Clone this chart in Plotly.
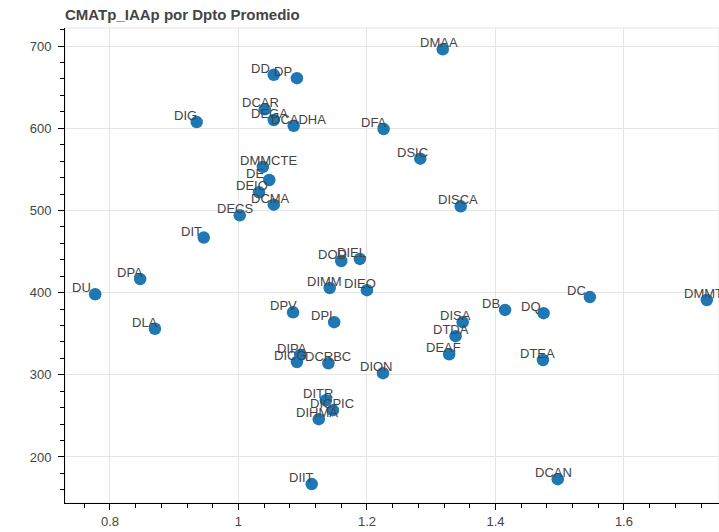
import plotly.graph_objects as go

names = ["DMAA", "DD", "DP", "DCAR", "DEGA", "DCADHA", "DIG", "DFA", "DSIC", "DISCA",
         "DMMCTE", "DE", "DEIO", "DCMA", "DECS", "DIT", "DOD", "DIEL", "DIMM", "DIEO",
         "DPV", "DPI", "DU", "DPA", "DLA", "DICG", "DIPA", "DCRBC", "DION", "DITR",
         "DICPIC", "DIHMA", "DIIT", "DCAN", "DISA", "DTDA", "DEAF", "DB", "DQ", "DC",
         "DMMT", "DTEA"]
x_ratio = [1.318, 1.055, 1.091, 1.041, 1.055, 1.086, 0.935, 1.226, 1.283, 1.346,
           1.038, 1.048, 1.032, 1.055, 1.002, 0.946, 1.160, 1.189, 1.142, 1.200,
           1.085, 1.149, 0.777, 0.847, 0.870, 1.091, 1.096, 1.140, 1.225, 1.136,
           1.147, 1.125, 1.114, 1.497, 1.349, 1.338, 1.328, 1.415, 1.475, 1.547,
           1.729, 1.474]
y_prom = [696, 665, 661, 623, 610, 603, 607.5, 599, 563, 505,
          553, 537, 522, 507, 494, 467, 438.5, 441, 405.6, 403,
          376, 364, 398, 416.5, 356, 315.6, 324, 314, 302, 269,
          257, 246, 167, 173, 364, 347, 325, 379, 375, 394.6,
          391, 318]

FONT = "Liberation Sans, Arial, Helvetica, sans-serif"

fig = go.Figure()
fig.add_trace(go.Scatter(
    x=x_ratio, y=y_prom, mode="markers", text=names, hoverinfo="text",
    marker=dict(size=12.5, color="#1f77b4", line=dict(width=0)),
    showlegend=False,
))

for n, xv, yv in zip(names, x_ratio, y_prom):
    fig.add_annotation(
        x=xv, y=yv, text=n, showarrow=False, xanchor="left", yanchor="bottom",
        xshift=-24, yshift=-2, borderpad=0,
        font=dict(family=FONT, size=13, color="#444444"),
    )

axis_common = dict(
    showgrid=True, gridcolor="#e5e5e5", gridwidth=1, zeroline=False,
    showline=True, linecolor="#000000", linewidth=1,
    ticks="outside", ticklen=6, tickcolor="#000000", tickwidth=1,
    tickfont=dict(family=FONT, size=13, color="#444444"),
)

fig.update_xaxes(range=[0.73, 1.748], dtick=0.2, tick0=0,
                 minor=dict(dtick=0.04, ticks="outside", ticklen=4, tickcolor="#000000", showgrid=False),
                 **axis_common)
fig.update_yaxes(range=[144, 722], dtick=100, tick0=0,
                 minor=dict(dtick=20, ticks="outside", ticklen=4, tickcolor="#000000", showgrid=False),
                 ticklabelstandoff=4,
                 **axis_common)

fig.add_shape(type="rect", xref="paper", yref="paper", x0=0, y0=0, x1=1, y1=1,
              line=dict(color="#e5e5e5", width=1), layer="below")

W, H = 719, 532
fig.update_layout(
    width=W, height=H,
    margin=dict(l=65, r=0, t=28, b=29),
    paper_bgcolor="white", plot_bgcolor="white",
    title=dict(text="<b>CMATp_IAAp por Dpto Promedio</b>", x=65/W, xanchor="left",
               xref="container", yref="container", y=1 - 15/H, yanchor="middle",
               font=dict(family=FONT, size=15, color="#444444")),
)

fig.write_html(
    "out.html",
    config={"displayModeBar": False},
    post_script="document.body.style.margin='0';document.body.style.overflow='hidden';",
)
